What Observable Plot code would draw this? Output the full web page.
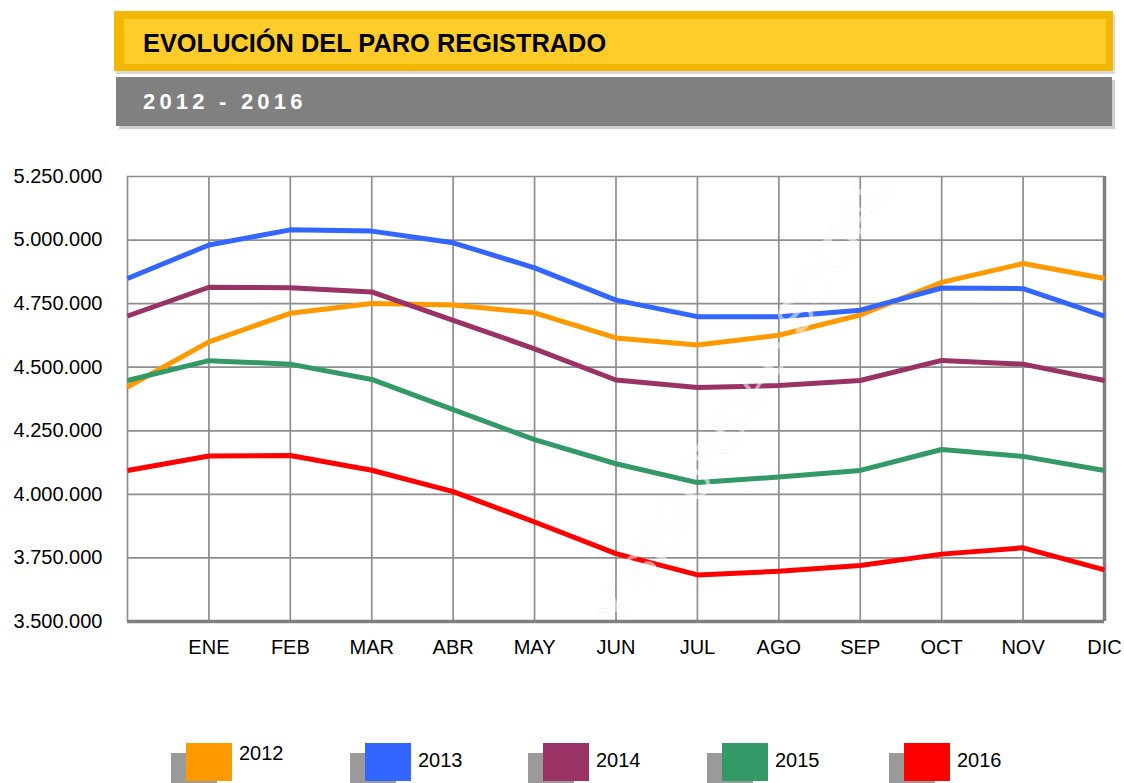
<!DOCTYPE html>
<html>
<head>
<meta charset="utf-8">
<script src="https://cdn.jsdelivr.net/npm/d3@7"></script>
<script src="https://cdn.jsdelivr.net/npm/@observablehq/plot@0.6"></script>
<style>
  html, body { margin: 0; padding: 0; background: #fff; }
  body { width: 1124px; height: 783px; position: relative; overflow: hidden; font-family: "Liberation Sans", Arial, sans-serif; }
  .titlebox { position: absolute; left: 114px; top: 11px; width: 999px; height: 60px; box-sizing: border-box;
    background: #FFCC29; border-style: solid; border-color: #F2B800; border-width: 8px 7px 7px 10px;
    box-shadow: 2px 3px 0 #d9d9d9; }
  .title { position: absolute; left: 143px; top: 31px; font-size: 25.4px; line-height: 25px; font-weight: bold; color: #000; white-space: nowrap; }
  .subbox { position: absolute; left: 116px; top: 77px; width: 996px; height: 49px; background: #808080; box-shadow: 3px 3px 0 #cfcfcf; }
  .subtitle { position: absolute; left: 143px; top: 91px; font-size: 22px; line-height: 22px; font-weight: bold; color: #fff; letter-spacing: 4.2px; white-space: nowrap; }
  #chart { position: absolute; left: 0; top: 140px; }
  #wm { position: absolute; left: 0; top: 0; pointer-events: none; }
  .lg-shadow, .lg-box { position: absolute; width: 46px; height: 38px; }
  .lg-shadow { background: #9a9a9a; }
  .lg-label { position: absolute; font-size: 20px; line-height: 20px; color: #000; }
</style>
</head>
<body>
<div class="titlebox"></div>
<div class="title">EVOLUCIÓN DEL PARO REGISTRADO</div>
<div class="subbox"></div>
<div class="subtitle">2012 - 2016</div>
<div id="chart"></div>
<div id="legend"></div>
<script>
// Month labels (index 0 = December of the previous year, unlabeled)
const monthLabels = ["", "ENE", "FEB", "MAR", "ABR", "MAY", "JUN", "JUL", "AGO", "SEP", "OCT", "NOV", "DIC"];
const years = ["2012", "2013", "2014", "2015", "2016"];
const colors = ["#FF9900", "#3366FF", "#993366", "#339966", "#FF0000"];
const yTicks = [3500000, 3750000, 4000000, 4250000, 4500000, 4750000, 5000000, 5250000];

const y2012 = [4422359, 4599829, 4712098, 4750867, 4744235, 4714122, 4615269, 4587455, 4625634, 4705279, 4833521, 4907817, 4848723];
const y2013 = [4848723, 4980778, 5040222, 5035243, 4989193, 4890928, 4763680, 4698814, 4698783, 4724355, 4811383, 4808908, 4701338];
const y2014 = [4701338, 4814435, 4812486, 4795866, 4684301, 4572385, 4449701, 4419860, 4427930, 4447650, 4526804, 4512153, 4447711];
const y2015 = [4447711, 4525691, 4512116, 4451939, 4333016, 4215031, 4120304, 4046276, 4067955, 4094042, 4176369, 4149298, 4093508];
const y2016 = [4093508, 4150710, 4152986, 4094770, 4011026, 3891403, 3767054, 3683061, 3697496, 3720297, 3764982, 3789823, 3702974];
const series = [y2012, y2013, y2014, y2015, y2016];

const data = [];
series.forEach((vals, s) => vals.forEach((v, i) => data.push({year: years[s], i, v})));
const idx = monthLabels.map((_, i) => i);
const fmt = d => d3.format(",")(d).replace(/,/g, ".");

const gridColor = "#8e8e8e";
const chart = Plot.plot({
  width: 1124,
  height: 541,
  marginLeft: 127,
  marginRight: 20,
  marginTop: 36,
  marginBottom: 60,
  style: {fontFamily: "'Liberation Sans', Arial, sans-serif", fontSize: "20px", color: "#000", background: "transparent"},
  x: {type: "linear", domain: [0, 12]},
  y: {domain: [3500000, 5250000]},
  color: {domain: years, range: colors},
  marks: [
    Plot.ruleX(idx, {stroke: gridColor, strokeWidth: 1.7}),
    Plot.ruleY(yTicks, {stroke: gridColor, strokeWidth: 1.7}),
    Plot.ruleX([12], {stroke: "#7f7f7f", strokeWidth: 3.5}),
    Plot.ruleY([3500000], {stroke: "#7f7f7f", strokeWidth: 3.5}),
    Plot.axisY({ticks: yTicks, tickSize: 0, tickPadding: 25, tickFormat: fmt, fontSize: 20, label: null}),
    Plot.axisX({ticks: idx.slice(1), tickSize: 0, tickPadding: 18, tickFormat: i => monthLabels[i], fontSize: 20, label: null}),
    Plot.line(data, {x: "i", y: "v", z: "year", stroke: "year", strokeWidth: 5, strokeLinejoin: "round", strokeLinecap: "butt"})
  ]
});
document.getElementById("chart").appendChild(chart);

// faint diagonal watermark
const wm = d3.select("body").append("svg").attr("id", "wm").attr("width", 1124).attr("height", 783);
wm.append("text")
  .attr("transform", "translate(893,188) rotate(-58.5)")
  .attr("text-anchor", "end")
  .attr("font-family", "'Liberation Sans', Arial, sans-serif")
  .attr("font-size", 48)
  .attr("fill", "#ffffff").attr("fill-opacity", 0.55)
  .attr("stroke", "#000").attr("stroke-opacity", 0.04).attr("stroke-width", 1)
  .text("Y SEGURIDAD SOCIAL");

// legend
const legendLeft = [186, 365, 543, 722, 904];
const labelTop = [743, 750, 750, 750, 750];
const lg = document.getElementById("legend");
years.forEach((y, k) => {
  const sh = document.createElement("div");
  sh.className = "lg-shadow";
  sh.style.left = (legendLeft[k] - 15) + "px";
  sh.style.top = "753px";
  lg.appendChild(sh);
  const bx = document.createElement("div");
  bx.className = "lg-box";
  bx.style.left = legendLeft[k] + "px";
  bx.style.top = "743px";
  bx.style.background = colors[k];
  lg.appendChild(bx);
  const lb = document.createElement("div");
  lb.className = "lg-label";
  lb.style.left = (legendLeft[k] + 53) + "px";
  lb.style.top = labelTop[k] + "px";
  lb.textContent = y;
  lg.appendChild(lb);
});
</script>
</body>
</html>
